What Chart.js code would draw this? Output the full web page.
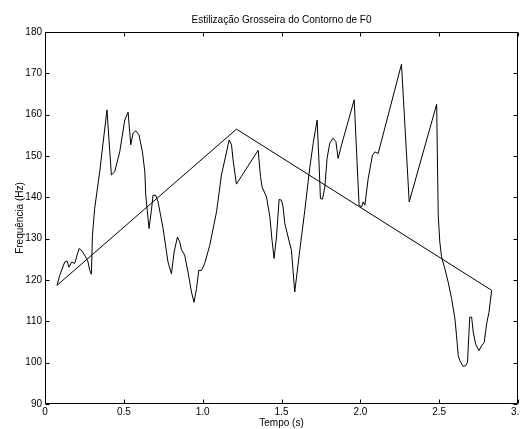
<!DOCTYPE html>
<html><head><meta charset="utf-8">
<script src="https://cdn.jsdelivr.net/npm/chart.js@4/dist/chart.umd.min.js"></script>
<style>html,body{margin:0;padding:0;background:#fff}#wrap{width:520px;height:429px}</style>
</head><body><div id="wrap"><canvas id="c" width="520" height="429"></canvas></div>
<script>
// F0 contour (time in s, frequency in Hz)
const timeS = [0.076,0.093,0.125,0.140,0.152,0.169,0.188,0.216,0.231,0.258,0.273,0.284,0.294,0.301,0.315,0.347,0.393,0.421,0.442,0.474,0.506,0.527,0.544,0.558,0.576,0.596,0.618,0.633,0.639,0.660,0.675,0.685,0.702,0.717,0.749,0.780,0.802,0.819,0.840,0.855,0.865,0.886,0.907,0.929,0.945,0.961,0.975,0.992,1.013,1.045,1.088,1.119,1.147,1.168,1.183,1.193,1.214,1.352,1.367,1.377,1.405,1.426,1.440,1.453,1.468,1.485,1.500,1.510,1.521,1.542,1.563,1.584,1.616,1.648,1.680,1.701,1.726,1.739,1.747,1.760,1.775,1.789,1.806,1.827,1.845,1.859,1.881,1.961,1.992,2.008,2.018,2.029,2.050,2.077,2.092,2.113,2.124,2.261,2.310,2.484,2.494,2.504,2.515,2.536,2.557,2.579,2.600,2.610,2.621,2.631,2.652,2.669,2.680,2.688,2.694,2.706,2.716,2.731,2.752,2.769,2.786,2.801,2.816,2.833];
const f0Hz = [118.7,121.1,124.35,124.6,123.1,124.35,124.0,127.6,127.2,125.6,124.35,122.3,121.4,130.8,137.3,146.2,161.15,145.4,146.2,151.0,158.7,160.6,152.7,155.5,156.1,155.1,151.0,146.2,140.5,132.45,136.9,140.5,140.5,138.9,132.45,124.35,121.5,126.8,130.4,129.2,127.4,126.0,121.9,117.1,114.6,117.9,122.3,122.3,124.0,128.4,136.5,145.4,150.2,153.9,152.7,149.0,143.2,151.4,145.0,142.5,140.1,135.3,129.6,125.2,130.4,139.5,139.3,137.7,133.7,130.4,127.2,117.1,127.2,136.9,147.4,153.1,158.7,147.4,139.7,139.55,142.5,149.4,153.1,154.3,153.5,149.4,152.7,163.6,138.1,137.7,138.9,138.1,144.6,150.2,151.0,150.6,152.2,172.2,138.9,162.5,135.7,129.2,125.6,122.75,119.5,115.5,110.6,106.6,101.7,100.5,99.1,99.3,100.1,106.6,111.0,111.0,107.4,104.55,102.9,104.1,104.9,109.4,112.2,117.5];
// Coarse stylization (straight-line segments)
const styleT = [0.076,1.2145,2.833];
const styleHz = [118.7,156.5,117.5];
// Axis ticks
const xTickValues = [0,0.5,1,1.5,2,2.5,3];
const yTickValues = [90,100,110,120,130,140,150,160,170,180];

const FONT = 'Liberation Sans, Arial, Helvetica, sans-serif';
const toPts = (xs, ys) => xs.map((x, i) => ({x: x, y: ys[i]}));

const inwardTicks = {
  id: 'inwardTicks',
  afterDraw(chart) {
    const {ctx, chartArea: a, scales: {x, y}} = chart;
    const L = Math.round(a.left) + 0.5, R = Math.round(a.right) - 0.5;
    const T = Math.round(a.top) + 0.5, B = Math.round(a.bottom) - 0.5;
    const len = 4;
    ctx.save();
    ctx.strokeStyle = '#000';
    ctx.lineWidth = 1;
    ctx.beginPath();
    ctx.rect(L, T, R - L, B - T);
    xTickValues.forEach(v => {
      const px = Math.round(x.getPixelForValue(v)) + 0.5;
      ctx.moveTo(px, B); ctx.lineTo(px, B - len);
      ctx.moveTo(px, T); ctx.lineTo(px, T + len);
    });
    yTickValues.forEach(v => {
      const py = Math.round(y.getPixelForValue(v)) + 0.5;
      ctx.moveTo(L, py); ctx.lineTo(L + len, py);
      ctx.moveTo(R, py); ctx.lineTo(R - len, py);
    });
    ctx.stroke();
    ctx.restore();
  }
};

new Chart(document.getElementById('c'), {
  type: 'line',
  data: {
    datasets: [
      {data: toPts(timeS, f0Hz), borderColor: '#000', borderWidth: 1, pointRadius: 0, tension: 0, fill: false},
      {data: toPts(styleT, styleHz), borderColor: '#000', borderWidth: 1, pointRadius: 0, tension: 0, fill: false}
    ]
  },
  options: {
    responsive: false,
    animation: false,
    devicePixelRatio: 1,
    layout: {padding: {left: 0, right: 2, top: 0, bottom: 0}},
    plugins: {
      legend: {display: false},
      tooltip: {enabled: false},
      title: {
        display: true, fullSize: false,
        text: 'Estilização Grosseira do Contorno de F0',
        color: '#000', font: {family: FONT, size: 10, weight: 'normal'},
        padding: {top: 14, bottom: 6}
      }
    },
    scales: {
      x: {
        type: 'linear', min: 0, max: 3,
        afterBuildTicks: s => { s.ticks = xTickValues.map(v => ({value: v})); },
        afterFit: s => { s.height = 25; s.paddingLeft = 0; s.paddingRight = 0; },
        grid: {display: false, drawTicks: false},
        border: {display: false},
        ticks: {color: '#000', padding: 2, maxRotation: 0, autoSkip: false, font: {family: FONT, size: 10}},
        title: {display: true, text: 'Tempo (s)', color: '#000', font: {family: FONT, size: 10}, padding: {top: 0, bottom: 0}}
      },
      y: {
        type: 'linear', min: 90, max: 180,
        afterBuildTicks: s => { s.ticks = yTickValues.map(v => ({value: v})); },
        afterFit: s => { s.width = 45; },
        grid: {display: false, drawTicks: false},
        border: {display: false},
        ticks: {color: '#000', padding: 3, autoSkip: false, font: {family: FONT, size: 10}},
        title: {display: true, text: 'Frequência (Hz)', color: '#000', font: {family: FONT, size: 10}, padding: {top: 14, bottom: 0}}
      }
    }
  },
  plugins: [inwardTicks]
});
</script>
</body></html>
